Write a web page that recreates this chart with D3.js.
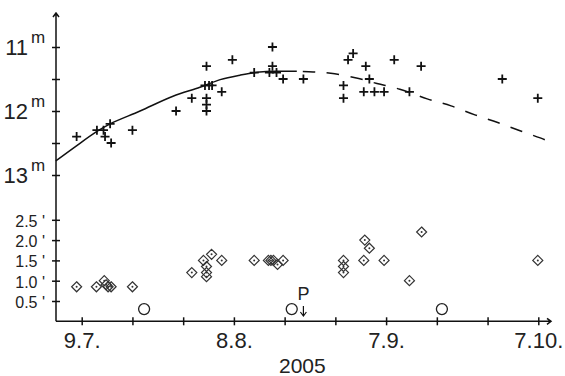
<!DOCTYPE html>
<html>
<head>
<meta charset="utf-8">
<script src="https://cdn.jsdelivr.net/npm/d3@7"></script>
<style>
  body { margin: 0; background: #fff; }
  svg { display: block; font-family: "Liberation Sans", Arial, sans-serif; }
</style>
</head>
<body>
<svg id="chart" width="565" height="376"></svg>
<script>
// days are counted from 30 June 2005: 8.0 = 8 July, 33.6 = 2.6 August, 98.9 = 6.9 October

// total magnitude estimates (+)
const magDay = [8.0, 12.0, 13.3, 13.6, 14.6, 14.8, 19.0, 27.6, 30.7, 33.6, 33.3, 34.1, 34.7, 33.6, 33.6, 33.6,
  36.6, 38.7, 43.0, 46.6, 46.6, 46.0, 47.4, 48.7, 52.7, 60.6, 60.6, 61.5, 62.5, 65.0, 65.7, 64.6, 66.7, 68.6,
  70.6, 73.6, 75.9, 91.9, 98.9];
const magVal = [12.4, 12.3, 12.3, 12.4, 12.2, 12.5, 12.3, 12.0, 11.8, 11.3, 11.6, 11.6, 11.6, 11.8, 11.9, 12.0,
  11.7, 11.2, 11.4, 11.0, 11.3, 11.4, 11.4, 11.5, 11.5, 11.6, 11.8, 11.2, 11.1, 11.3, 11.5, 11.7, 11.7, 11.7,
  11.2, 11.7, 11.3, 11.5, 11.8];

// coma diameter estimates in arcmin (diamonds)
const comaDay = [8.0, 11.9, 13.45, 13.8, 14.2, 14.8, 19.0, 30.7, 33.0, 33.6, 33.6, 33.6, 34.6, 36.6, 43.0,
  45.8, 46.3, 46.8, 47.6, 48.7, 60.6, 60.6, 60.6, 64.8, 65.7, 64.6, 68.6, 73.6, 76.0, 98.9];
const comaVal = [0.85, 0.85, 1.0, 0.9, 0.85, 0.85, 0.85, 1.2, 1.5, 1.35, 1.2, 1.1, 1.65, 1.5, 1.5,
  1.5, 1.5, 1.5, 1.4, 1.5, 1.5, 1.35, 1.2, 2.0, 1.8, 1.5, 1.5, 1.0, 2.2, 1.5];

// small coma values (circles)
const smallDay = [21.3, 50.4, 80.0];
const smallVal = [0.3, 0.3, 0.3];

// light curve; solid up to fitEndDay, dashed after
const curveDay = [3.9, 7.7, 12.0, 14.6, 20.5, 27.0, 32.3, 36.3, 40.2, 44.1, 48.1, 51.4, 54.6, 58.1, 62.9,
  67.2, 71.7, 77.1, 81.8, 86.5, 91.0, 95.8, 100.3, 101.5];
const curveMag = [12.78, 12.56, 12.32, 12.20, 12.00, 11.77, 11.63, 11.51, 11.44, 11.39, 11.38, 11.38, 11.39,
  11.41, 11.48, 11.57, 11.66, 11.81, 11.92, 12.06, 12.18, 12.32, 12.45, 12.50];
const fitEndDay = 51.4;
const periDay = 52.7;

// axes
const xTickDay = [9, 19, 29, 39, 49, 59, 69, 79, 89, 99];
const xTickLabel = ["9.7.", "", "", "8.8.", "", "", "7.9.", "", "", "7.10."];
const magTicks = [11, 11.5, 12, 12.5, 13];
const magLabels = ["11", "", "12", "", "13"];
const comaTicks = [0.5, 1.0, 1.5, 2.0, 2.5];
const comaLabels = ["0.5", "1.0", "1.5", "2.0", "2.5"];

const axisX0 = 56, axisXEnd = 551, axisYTop = 13, axisY0 = 321.3;

const toDate = d => new Date(Date.UTC(2005, 5, 30) + d * 864e5);

const x = d3.scaleUtc().domain([toDate(9), toDate(99)]).range([81.7, 538.3]);
const yMag = d3.scaleLinear().domain([11, 13]).range([47, 175]);
const yComa = d3.scaleLinear().domain([0, 2.5]).range([axisY0, 219.8]);

const svg = d3.select("#chart");
const ink = "#111";

// === Axis lines with arrow heads ===
svg.append("path")
  .attr("d", `M${axisX0},${axisY0}V${axisYTop}M${axisX0 - 3},${axisYTop + 4}L${axisX0},${axisYTop}L${axisX0 + 3},${axisYTop + 4}`)
  .attr("fill", "none").attr("stroke", ink).attr("stroke-width", 1.5);
svg.append("path")
  .attr("d", `M${axisX0},${axisY0}H${axisXEnd}M${axisXEnd - 4},${axisY0 - 3}L${axisXEnd},${axisY0}L${axisXEnd - 4},${axisY0 + 3}`)
  .attr("fill", "none").attr("stroke", ink).attr("stroke-width", 1.5);

// === Ticks (crossing the axis) ===
const gx = svg.append("g")
  .attr("transform", `translate(0,${axisY0})`)
  .call(d3.axisBottom(x).tickValues(xTickDay.map(toDate)).tickSize(4).tickFormat((d, i) => xTickLabel[i]));
gx.select(".domain").remove();
gx.selectAll(".tick line").attr("y1", -4).attr("y2", 4).attr("stroke", ink).attr("stroke-width", 1.5);
gx.selectAll(".tick text")
  .attr("y", 27).attr("dy", 0)
  .attr("font-size", 22).attr("font-family", "Liberation Sans, Arial, sans-serif").attr("fill", "#222");

const gm = svg.append("g")
  .attr("transform", `translate(${axisX0},0)`)
  .call(d3.axisLeft(yMag).tickValues(magTicks).tickSize(4).tickFormat(""));
gm.select(".domain").remove();
gm.selectAll(".tick line").attr("x1", 4).attr("x2", -4).attr("stroke", ink).attr("stroke-width", 1.5);

const gc = svg.append("g")
  .attr("transform", `translate(${axisX0},0)`)
  .call(d3.axisLeft(yComa).tickValues(comaTicks).tickSize(4).tickFormat(""));
gc.select(".domain").remove();
gc.selectAll(".tick line").attr("x1", 4).attr("x2", -4).attr("stroke", ink).attr("stroke-width", 1.5);

// magnitude labels with superscript m
svg.append("g")
  .selectAll("text")
  .data(magTicks.map((v, i) => ({ v, label: magLabels[i] })).filter(d => d.label))
  .join("text")
  .attr("x", 28)
  .attr("y", d => yMag(d.v) + 8)
  .attr("text-anchor", "end")
  .attr("font-size", 22)
  .attr("fill", "#222")
  .text(d => d.label);
svg.append("g")
  .selectAll("text")
  .data(magTicks.filter((v, i) => magLabels[i]))
  .join("text")
  .attr("x", 31)
  .attr("y", d => yMag(d) - 4)
  .attr("font-size", 17)
  .attr("fill", "#222")
  .text("m");

// coma labels
svg.append("g")
  .selectAll("text")
  .data(comaTicks)
  .join("text")
  .attr("x", 45)
  .attr("y", d => yComa(d) + 7)
  .attr("text-anchor", "end")
  .attr("font-size", 16)
  .attr("fill", "#222")
  .text((d, i) => comaLabels[i] + " '");

// year
svg.append("text")
  .attr("x", x(toDate(52.5)))
  .attr("y", 373)
  .attr("text-anchor", "middle")
  .attr("font-size", 21)
  .attr("fill", "#222")
  .text("2005");

// === Light curve ===
const curvePts = curveDay.map((d, i) => ({ d, m: curveMag[i] }));
const line = d3.line()
  .x(p => x(toDate(p.d)))
  .y(p => yMag(p.m))
  .curve(d3.curveCatmullRom);

svg.append("path")
  .datum(curvePts.filter(p => p.d <= fitEndDay))
  .attr("d", line)
  .attr("fill", "none").attr("stroke", ink).attr("stroke-width", 1.5);
svg.append("path")
  .datum(curvePts.filter(p => p.d >= fitEndDay))
  .attr("d", line)
  .attr("fill", "none").attr("stroke", ink).attr("stroke-width", 1.5)
  .attr("stroke-dasharray", "12.5,11.5")
  .attr("stroke-dashoffset", 18);

// === Magnitude points ===
svg.append("g")
  .selectAll("path")
  .data(magDay.map((d, i) => ({ d, v: magVal[i] })))
  .join("path")
  .attr("transform", p => `translate(${x(toDate(p.d))},${yMag(p.v)})`)
  .attr("d", "M-4.5,0H4.5M0,-4.5V4.5")
  .attr("stroke", ink).attr("stroke-width", 1.8);

// === Coma diameters ===
const comaG = svg.append("g")
  .selectAll("g")
  .data(comaDay.map((d, i) => ({ d, v: comaVal[i] })))
  .join("g")
  .attr("transform", p => `translate(${x(toDate(p.d))},${yComa(p.v)})`);
comaG.append("path")
  .attr("d", "M0,-5L5,0L0,5L-5,0Z")
  .attr("fill", "none").attr("stroke", "#333").attr("stroke-width", 1.2);
comaG.append("circle")
  .attr("r", 1).attr("fill", "#333");

svg.append("g")
  .selectAll("circle")
  .data(smallDay.map((d, i) => ({ d, v: smallVal[i] })))
  .join("circle")
  .attr("cx", p => x(toDate(p.d)))
  .attr("cy", p => yComa(p.v))
  .attr("r", 5.5)
  .attr("fill", "none").attr("stroke", "#222").attr("stroke-width", 1.3);

// === Perihelion marker ===
const px = x(toDate(periDay));
svg.append("text")
  .attr("x", px - 6)
  .attr("y", 300)
  .attr("font-size", 18)
  .attr("fill", "#222")
  .text("P");
svg.append("path")
  .attr("d", `M${px},306V316M${px - 3},312L${px},316L${px + 3},312`)
  .attr("fill", "none").attr("stroke", ink).attr("stroke-width", 1.2);
</script>
</body>
</html>
